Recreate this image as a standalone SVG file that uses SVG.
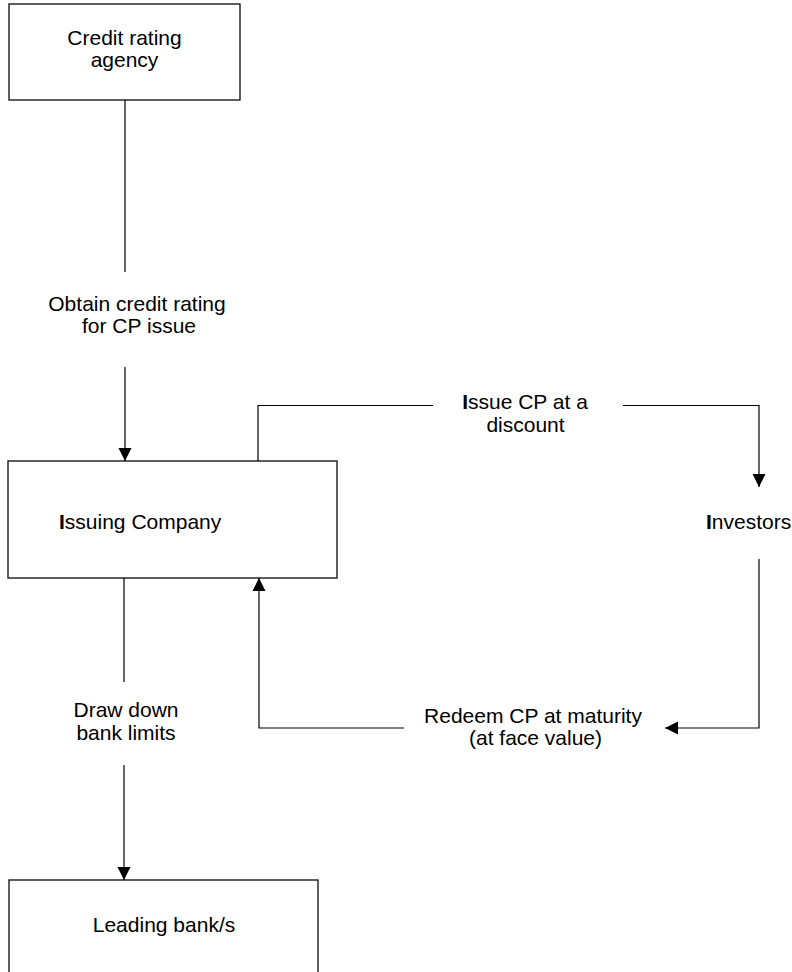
<svg xmlns="http://www.w3.org/2000/svg" width="792" height="972" viewBox="0 0 792 972">
  <style>
    .box { fill: #ffffff; stroke: #1a1a1a; stroke-width: 1.4; }
    .lbl { font-family: "Liberation Sans", Arial, sans-serif; font-size: 21px; fill: #000000; }
    .mid { text-anchor: middle; }
    .line { fill: none; stroke: #000000; stroke-width: 1.2; }
    .cap { font-weight: bold; }
  </style>
  <defs>
    <marker id="arrow" markerUnits="userSpaceOnUse" markerWidth="14" markerHeight="14" viewBox="0 0 14 14" refX="13" refY="7" orient="auto">
      <path d="M0,0.5 L13,7 L0,13.5 Z" fill="#000000"/>
    </marker>
  </defs>
  <rect width="792" height="972" fill="#ffffff"/>

  <g id="credit-rating-agency">
    <rect class="box" x="9" y="4" width="231" height="96"/>
    <text class="lbl mid" x="124.5" y="45">Credit rating</text>
    <text class="lbl mid" x="124.5" y="67">agency</text>
  </g>

  <g id="issuing-company">
    <rect class="box" x="8" y="461" width="329" height="117"/>
    <text class="lbl" x="59" y="529"><tspan class="cap">I</tspan>ssuing Company</text>
  </g>

  <g id="investors">
    <text class="lbl" x="706" y="529"><tspan class="cap">I</tspan>nvestors</text>
  </g>

  <g id="leading-banks">
    <rect class="box" x="9" y="880" width="309" height="100"/>
    <text class="lbl mid" x="164" y="932">Leading bank/s</text>
  </g>

  <g id="connectors">
    <!-- rating: agency down to issuing company -->
    <line class="line" x1="125" y1="100" x2="125" y2="272"/>
    <text class="lbl mid" x="137" y="311">Obtain credit rating</text>
    <text class="lbl mid" x="139" y="333">for CP issue</text>
    <line class="line" x1="125" y1="367" x2="125" y2="461" marker-end="url(#arrow)"/>

    <!-- issue CP to investors -->
    <polyline class="line" points="258,461 258,405.5 433,405.5"/>
    <text class="lbl mid" x="525" y="409"><tspan class="cap">I</tspan>ssue CP at a</text>
    <text class="lbl mid" x="525.5" y="432">discount</text>
    <polyline class="line" points="623,405.5 759,405.5 759,487" marker-end="url(#arrow)"/>

    <!-- redemption back to issuing company -->
    <polyline class="line" points="759,559 759,728 665,728" marker-end="url(#arrow)"/>
    <text class="lbl mid" x="533" y="723">Redeem CP at maturity</text>
    <text class="lbl mid" x="535.5" y="745">(at face value)</text>
    <polyline class="line" points="404,728 259,728 259,578" marker-end="url(#arrow)"/>

    <!-- draw down bank limits -->
    <line class="line" x1="124" y1="578" x2="124" y2="682"/>
    <text class="lbl mid" x="126" y="717">Draw down</text>
    <text class="lbl mid" x="126" y="740">bank limits</text>
    <line class="line" x1="124" y1="765" x2="124" y2="880" marker-end="url(#arrow)"/>
  </g>
</svg>
